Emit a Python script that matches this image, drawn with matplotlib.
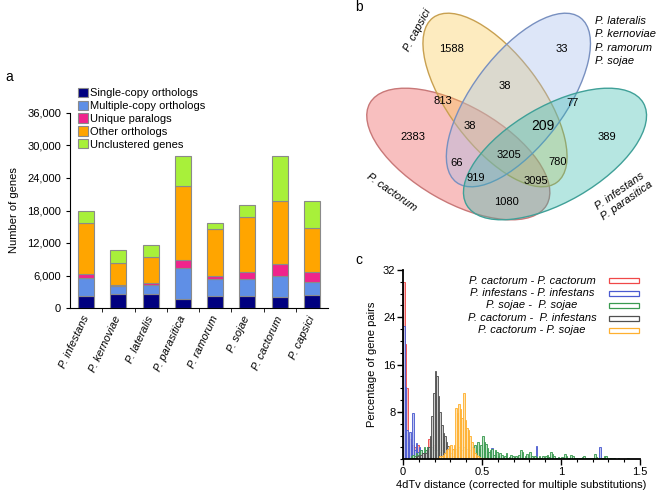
import numpy as np
import matplotlib
matplotlib.use("Agg")
import matplotlib.pyplot as plt
from matplotlib.patches import Ellipse, Rectangle
from matplotlib.ticker import FuncFormatter, MultipleLocator

plt.rcParams["font.family"] = ["Liberation Sans", "DejaVu Sans"]

# ---- panel a: gene composition per species ----
species = ["P. infestans", "P. kernoviae", "P. lateralis", "P. parasitica",
           "P. ramorum", "P. sojae", "P. cactorum", "P. capsici"]
single_copy = [2150, 2650, 2650, 1660, 2200, 2280, 2030, 2400]
multi_copy = [3330, 1470, 1600, 5720, 3150, 3070, 3820, 2340]
unique_para = [800, 180, 350, 1480, 550, 1300, 2350, 1840]
other_orth = [9420, 4070, 4800, 13600, 8700, 10150, 11550, 8190]
unclustered = [2150, 2280, 2200, 5640, 1000, 2150, 8250, 5030]
seg_names = ["Single-copy orthologs", "Multiple-copy orthologs", "Unique paralogs",
             "Other orthologs", "Unclustered genes"]
seg_colors = ["#00007f", "#5f8fe6", "#f0248c", "#ffa500", "#a8f03a"]

# ---- panel b: venn counts ----
venn_counts = {
    "capsici": 1588, "lat": 33, "capsici_lat": 38, "cact_capsici": 813,
    "lat_inf": 77, "cact_capsici_lat": 38, "capsici_lat_inf": 209, "cact": 2383,
    "inf": 389, "all": 3205, "cact_lat": 66, "capsici_inf": 780,
    "cact_lat_inf": 919, "cact_capsici_inf": 3095, "cact_inf": 1080,
}

# ---- panel c: 4dTv distributions (% of gene pairs, bins of 0.01) ----
bin_w = 0.01
red_vals = [30, 19.5, 12, 4, 3.5, 2.5, 2.5, 2, 1.5, 2.5,
            1.5, 1, 1, 0.8, 0.8, 1.2, 3.5, 1, 1.5, 2.5,
            1, 0.8, 0.5, 0.5, 0.3, 0.3]
blue_vals = [22.5, 12.2, 5, 3, 4.6, 2, 7.8, 1.5, 2.8, 1.2,
             2, 1.5, 1, 1.2, 1.5, 2, 1.8, 1.5, 1.2, 1,
             1.5, 1, 0.8, 1, 0.6, 0.5, 0.5, 0.4, 0.5, 0.3,
             0.3, 0.3, 0.2, 0, 0, 0, 0, 0, 0, 0,
             0, 0, 0, 0, 0, 0, 0, 0, 0, 0,
             0, 0, 0, 0, 0, 0, 1.9, 0, 0, 0,
             0, 0, 0, 0, 0, 0, 0, 0, 0, 0,
             0, 0, 0, 0, 0, 0, 0, 0, 0, 0,
             0, 0, 0, 0, 2.3, 0, 0, 0, 0, 0,
             0, 0, 0, 0, 0, 0, 0, 0, 0, 0,
             0, 0, 0, 0, 0, 0, 0, 0, 0, 0,
             0, 0, 0, 0, 0, 0, 0, 0, 0, 0,
             0, 0, 0, 0, 2.0]
green_vals = [0, 0, 0, 0.3, 0.3, 0.5, 0.8, 0.5, 1.0, 0.8,
              1.2, 1.5, 1.0, 2.0, 1.5, 2.0, 1.8, 1.5, 2.0, 1.5,
              2.0, 1.5, 1.8, 1.2, 1.5, 1.0, 1.2, 1.5, 1.0, 1.2,
              1.0, 1.5, 1.2, 1.8, 1.5, 2.0, 1.2, 1.5, 2.0, 1.5,
              1.8, 1.2, 1.5, 2.0, 1.0, 2.5, 1.5, 3.0, 1.8, 2.5,
              4.0, 3.0, 2.6, 1.9, 1.2, 1.6, 1.8, 0.8, 1.6, 1.2,
              0.6, 1.0, 0.8, 0.4, 0.5, 1.0, 0.3, 0.4, 0.8, 0.5,
              0.4, 0.6, 0.3, 0.8, 1.6, 1.2, 0.3, 0.5, 0.9, 0.3,
              1.3, 0.6, 0.3, 0.5, 0.4, 0.3, 0.6, 0.2, 0.5, 0.3,
              0.5, 0.8, 0.4, 1.3, 0.9, 0.5, 0.3, 0.2, 0.4, 0.3,
              0.4, 0.2, 0.9, 0.6, 0.3, 0.2, 0.7, 0.5, 0.2, 0.3,
              0.2, 0.3, 0.2, 0.4, 0.5, 0.2, 0.3, 0.2, 0.3, 0.2,
              0.3, 0.9, 0.4, 0.2, 0.3, 0.2, 0.3, 0.5, 0.5, 0.2,
              0.2, 0.3, 0, 0.2, 0, 0, 0.2, 0, 0, 0,
              0, 0, 0.3]
gray_vals = [0, 0, 0, 0, 0, 0, 0.3, 0.3, 0.5, 0.5,
             0.8, 0.8, 1.0, 1.0, 1.0, 1.5, 2.0, 4.0, 7.3, 11.2,
             15.0, 14.0, 10.7, 8.0, 5.8, 4.4, 3.9, 3.0, 2.2, 1.5,
             1.0, 0.6, 0.4]
orange_vals = [0, 0, 0, 0, 0, 0, 0, 0, 0, 0,
               0, 0, 0, 0, 0, 0, 0, 0, 0, 0,
               0.2, 0.3, 0.3, 0.5, 0.6, 0.8, 1.0, 1.5, 1.8, 2.2,
               2.4, 1.8, 2.5, 8.7, 7.8, 9.3, 8.5, 7.0, 11.2, 6.7,
               5.3, 5.0, 3.9, 3.0, 1.9, 1.0, 0.8, 0.5, 0.4, 0.3,
               0.3, 0.2, 0.2]
pair_labels = ["P. cactorum - P. cactorum", "P. infestans - P. infestans",
               "P. sojae -  P. sojae", "P. cactorum -  P. infestans",
               "P. cactorum - P. sojae"]
pair_edges = ["#f04848", "#4a5ad0", "#3a9a50", "#505050", "#ffb030"]
pair_faces = ["#f8b0b0", "#b8c0ee", "#b8e0c0", "#c8c8c8", "#ffe0a8"]

fig = plt.figure(figsize=(6.6, 4.97), dpi=100)
W, H = 660, 497


def px_axes(x0, y0, x1, y1):
    return fig.add_axes([x0 / W, 1 - y1 / H, (x1 - x0) / W, (y1 - y0) / H])


# ---------------- panel a ----------------
ax_a = px_axes(70, 113, 328, 308)
x = np.arange(len(species))
bottom = np.zeros(len(species))
for vals, name, col in zip([single_copy, multi_copy, unique_para, other_orth, unclustered],
                           seg_names, seg_colors):
    ax_a.bar(x, vals, width=0.5, bottom=bottom, color=col, edgecolor="#8a8a8a",
             linewidth=0.8, label=name)
    bottom += np.array(vals)
ax_a.set_xlim(-0.5, 7.5)
ax_a.set_ylim(0, 36000)
ax_a.set_yticks(np.arange(0, 36001, 6000))
ax_a.yaxis.set_major_formatter(FuncFormatter(lambda v, p: f"{int(v):,}"))
ax_a.set_xticks(x)
ax_a.set_xticklabels(species, rotation=65, ha="right", va="center",
                     rotation_mode="anchor", style="italic", fontsize=8)
ax_a.set_xticks(np.arange(0.5, 7.5, 1), minor=True)
ax_a.tick_params(axis="x", which="major", length=0, pad=6)
ax_a.tick_params(axis="x", which="minor", length=3, direction="out")
ax_a.tick_params(axis="y", labelsize=8, length=3, direction="out")
for s in ["top", "right"]:
    ax_a.spines[s].set_visible(False)
ax_a.set_ylabel("Number of genes", fontsize=8, labelpad=6)
ax_a.legend(loc="upper left", bbox_to_anchor=(0.03, 1.13), frameon=False, fontsize=8,
            handlelength=0.9, handleheight=0.9, handletextpad=0.2, labelspacing=0.22,
            borderaxespad=0, borderpad=0)
fig.text(5 / W, 1 - 77 / H, "a", fontsize=10, va="center")

# ---------------- panel b ----------------
ax_b = px_axes(330, 0, 660, 230)
ax_b.set_xlim(330, 660)
ax_b.set_ylim(230, 0)
ax_b.axis("off")
ellipses = [
    ((458.3, 154), 204, 96, 30, (0.93, 0.29, 0.29), "#c87878"),   # P. cactorum
    ((495.0, 100), 206, 92, 53, (0.98, 0.78, 0.29), "#c8a050"),   # P. capsici
    ((518.4, 100), 206, 92, -53, (0.62, 0.72, 0.92), "#7890c0"),  # lateralis group
    ((555.0, 154), 204, 96, -30, (0.19, 0.72, 0.67), "#40a098"),  # infestans group
]
for (c, w, h, ang, fc, ec) in ellipses:
    ax_b.add_patch(Ellipse(c, w, h, angle=ang, facecolor=(*fc, 0.35), edgecolor=ec, linewidth=1))

venn_pos = {
    "capsici": (451.7, 49), "lat": (561.7, 49), "capsici_lat": (505, 85.7),
    "cact_capsici": (442.7, 100.7), "lat_inf": (572.7, 103.3), "cact_capsici_lat": (470, 126),
    "capsici_lat_inf": (543.3, 126), "cact": (413.3, 136.7), "inf": (606.7, 136.7),
    "all": (509, 155), "cact_lat": (456.7, 163.3), "capsici_inf": (557.3, 161.7),
    "cact_lat_inf": (476, 178.3), "cact_capsici_inf": (535.7, 181), "cact_inf": (506.7, 201.7),
}
for key, val in venn_counts.items():
    fs = 10 if key == "capsici_lat_inf" else 8
    ax_b.text(*venn_pos[key], str(val), ha="center", va="center", fontsize=fs)

ax_b.text(418, 30, "P. capsici", rotation=62, ha="center", va="center", style="italic", fontsize=8)
ax_b.text(595, 41, "P. lateralis\nP. kernoviae\nP. ramorum\nP. sojae", ha="left", va="center",
          style="italic", fontsize=8, linespacing=1.45)
ax_b.text(392, 192, "P. cactorum", rotation=-35, ha="center", va="center", style="italic", fontsize=8)
ax_b.text(623, 196, "P. infestans\nP. parasitica", rotation=35, ha="center", va="center",
          style="italic", fontsize=8, linespacing=1.3)
fig.text(355 / W, 1 - 7 / H, "b", fontsize=10, va="center")

# ---------------- panel c ----------------
ax_c = px_axes(403, 270, 640, 459.3)
for vals, ec, fc in zip([red_vals, blue_vals, green_vals, gray_vals, orange_vals],
                        pair_edges, pair_faces):
    edges = np.arange(len(vals)) * bin_w
    ax_c.bar(edges, vals, width=bin_w, align="edge", facecolor=fc, alpha=0.9,
             edgecolor=ec, linewidth=0.7)
ax_c.set_xlim(0, 1.5)
ax_c.set_ylim(0, 32)
ax_c.set_xticks([0, 0.5, 1, 1.5])
ax_c.set_xticklabels(["0", "0.5", "1", "1.5"])
ax_c.xaxis.set_minor_locator(MultipleLocator(0.1))
ax_c.set_yticks([8, 16, 24, 32])
ax_c.yaxis.set_minor_locator(MultipleLocator(2))
ax_c.tick_params(which="major", length=4, width=1, labelsize=8, direction="out", pad=1.5)
ax_c.tick_params(which="minor", length=2.5, width=0.8, direction="out")
for s in ["top", "right"]:
    ax_c.spines[s].set_visible(False)
for s in ["left", "bottom"]:
    ax_c.spines[s].set_linewidth(1.3)
ax_c.set_xlabel("4dTv distance (corrected for multiple substitutions)", fontsize=8, labelpad=2)
ax_c.set_ylabel("Percentage of gene pairs", fontsize=8, labelpad=4)
leg_y = [0.943, 0.877, 0.813, 0.746, 0.681]
for lab, ec, yy in zip(pair_labels, pair_edges, leg_y):
    ax_c.text(0.544, yy, lab, transform=ax_c.transAxes, ha="center", va="center",
              style="italic", fontsize=8)
    ax_c.add_patch(Rectangle((0.87, yy - 0.013), 0.127, 0.026, transform=ax_c.transAxes,
                             facecolor="white", edgecolor=ec, linewidth=0.9, clip_on=False))
fig.text(355 / W, 1 - 260 / H, "c", fontsize=10, va="center")

fig.savefig("out.png", dpi=100)
